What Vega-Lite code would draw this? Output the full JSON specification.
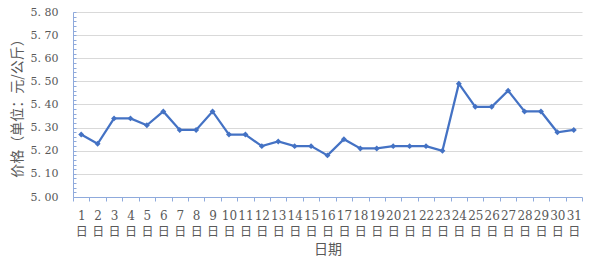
{
  "$schema": "https://vega.github.io/schema/vega-lite/v6.json",
  "width": 509,
  "height": 185,
  "autosize": {"type": "none"},
  "padding": {"left": 73, "top": 12, "right": 18, "bottom": 61},
  "background": "white",
  "config": {"view": {"stroke": null}},
  "data": {"values": [
    {"day": 1, "price": 5.27}, {"day": 2, "price": 5.23}, {"day": 3, "price": 5.34}, {"day": 4, "price": 5.34},
    {"day": 5, "price": 5.31}, {"day": 6, "price": 5.37}, {"day": 7, "price": 5.29}, {"day": 8, "price": 5.29},
    {"day": 9, "price": 5.37}, {"day": 10, "price": 5.27}, {"day": 11, "price": 5.27}, {"day": 12, "price": 5.22},
    {"day": 13, "price": 5.24}, {"day": 14, "price": 5.22}, {"day": 15, "price": 5.22}, {"day": 16, "price": 5.18},
    {"day": 17, "price": 5.25}, {"day": 18, "price": 5.21}, {"day": 19, "price": 5.21}, {"day": 20, "price": 5.22},
    {"day": 21, "price": 5.22}, {"day": 22, "price": 5.22}, {"day": 23, "price": 5.20}, {"day": 24, "price": 5.49},
    {"day": 25, "price": 5.39}, {"day": 26, "price": 5.39}, {"day": 27, "price": 5.46}, {"day": 28, "price": 5.37},
    {"day": 29, "price": 5.37}, {"day": 30, "price": 5.28}, {"day": 31, "price": 5.29}
  ]},
  "encoding": {
    "x": {
      "field": "day", "type": "ordinal", "sort": "ascending",
      "scale": {"type": "band", "paddingInner": 0, "paddingOuter": 0},
      "axis": {
        "title": "日期",
        "titleFont": "Noto Sans CJK SC", "titleFontSize": 14, "titleFontWeight": "normal", "titleColor": "#595959",
        "titlePadding": 5,
        "labelExpr": "(datum.label == null || datum.label === '' || datum.label === 'undefined') ? '' : [datum.label, '日']",
        "labelAngle": 0, "labelAlign": "center",
        "labelFont": "DejaVu Serif, Noto Sans CJK SC", "labelFontSize": 12, "labelColor": "#595959",
        "labelLineHeight": 16, "labelPadding": 9, "labelOverlap": false, "labelBound": false, "labelFlush": false,
        "tickBand": "extent", "tickSize": 4, "tickColor": "#8FAADC", "domainColor": "#8FAADC",
        "grid": false
      }
    },
    "y": {
      "field": "price", "type": "quantitative",
      "scale": {"domain": [5.0, 5.8], "nice": false, "zero": false},
      "axis": {
        "title": "价格（单位：元/公斤）",
        "titleFont": "Noto Sans CJK SC", "titleFontSize": 14, "titleFontWeight": "normal", "titleColor": "#595959",
        "titlePadding": 6,
        "values": [5.0, 5.02, 5.04, 5.06, 5.08, 5.1, 5.12, 5.14, 5.16, 5.18, 5.2, 5.22, 5.24, 5.26, 5.28, 5.3, 5.32, 5.34, 5.36, 5.38, 5.4, 5.42, 5.44, 5.46, 5.48, 5.5, 5.52, 5.54, 5.56, 5.58, 5.6, 5.62, 5.64, 5.66, 5.68, 5.7, 5.72, 5.74, 5.76, 5.78, 5.8],
        "labelExpr": "abs(datum.value * 10 - round(datum.value * 10)) < 0.001 ? replace(format(datum.value, '.2f'), '.', '. ') : ''",
        "labelFont": "DejaVu Serif", "labelFontSize": 11, "labelColor": "#595959",
        "labelPadding": 18, "labelOverlap": false, "labelBound": false,
        "tickSize": -3, "tickColor": "#8FAADC", "domainColor": "#8FAADC",
        "grid": true, "gridColor": "#D9D9D9", "gridWidth": 1,
        "gridOpacity": {"condition": {"test": "abs(datum.value * 10 - round(datum.value * 10)) < 0.001 && datum.value > 5.05", "value": 1}, "value": 0}
      }
    }
  },
  "layer": [
    {"mark": {"type": "line", "color": "#4472C4", "strokeWidth": 2.25}},
    {"mark": {"type": "point", "shape": "diamond", "filled": true, "color": "#4472C4", "size": 35, "opacity": 1}}
  ]
}
